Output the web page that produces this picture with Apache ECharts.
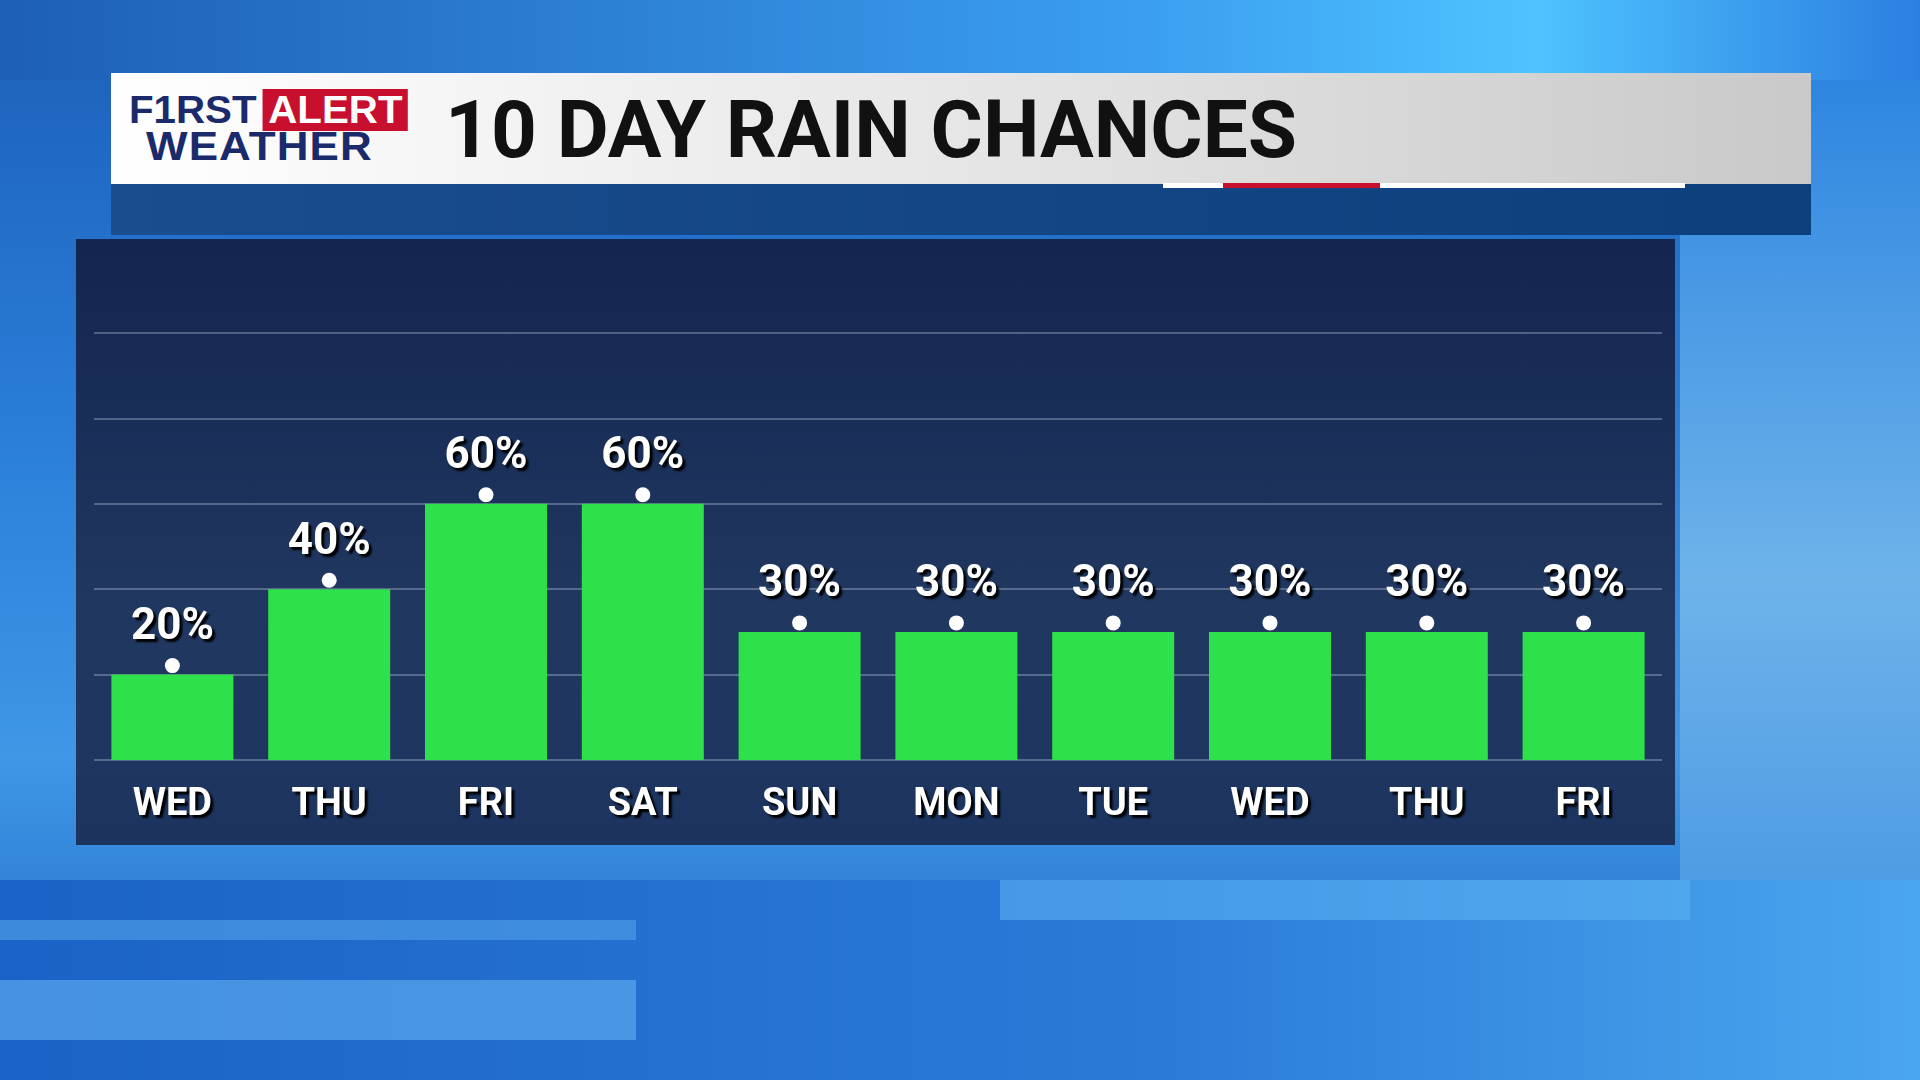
<!DOCTYPE html>
<html><head><meta charset="utf-8">
<script src="https://cdn.jsdelivr.net/npm/echarts@6/dist/echarts.min.js"></script>
<style>
html,body{margin:0;width:1920px;height:1080px;overflow:hidden;}
body{background:linear-gradient(180deg,#1c5fb8 0%,#2a7ed8 40%,#3f97e6 70%,#1e66c4 100%);position:relative;font-family:Roboto,sans-serif;}
.blk{position:absolute;}
#chart{position:absolute;left:0;top:0;width:1920px;height:1080px;}
</style></head><body>
<div class="blk" style="left:0;top:0;width:1920px;height:80px;background:linear-gradient(90deg,#1d5fb6,#3b9ff0 60%,#4ec3ff 80%,#2c7fe0)"></div>
<div class="blk" style="left:1680px;top:80px;width:240px;height:1000px;background:linear-gradient(180deg,#2e86e0,#6eb3ea 50%,#3b8de0)"></div>
<div class="blk" style="left:0;top:880px;width:1920px;height:200px;background:linear-gradient(90deg,#1b63c6,#2a7ad8 60%,#4aa6ee)"></div>
<div class="blk" style="left:0;top:920px;width:636px;height:20px;background:#4b9ae6;opacity:.7"></div>
<div class="blk" style="left:0;top:980px;width:636px;height:60px;background:#5aa7ee;opacity:.7"></div>
<div class="blk" style="left:1000px;top:880px;width:690px;height:40px;background:#5ab0f2;opacity:.6"></div>
<div class="blk" style="left:111px;top:184px;width:1700px;height:51px;background:linear-gradient(90deg,#1a4d8e,#0d3f7c)"></div>
<div class="blk" style="left:111px;top:73px;width:1700px;height:111px;background:linear-gradient(90deg,#ffffff,#e6e6e6 50%,#c9c9c9)"></div>
<div class="blk" style="left:1163px;top:183px;width:522px;height:5px;background:#fff"></div>
<div class="blk" style="left:1223px;top:183px;width:157px;height:5px;background:#c8102e"></div>
<div class="blk" style="left:76px;top:239px;width:1599px;height:606px;background:linear-gradient(180deg,rgba(18,32,70,.93),rgba(30,46,82,.9) 60%,rgba(26,44,84,.92))"></div>
<div class="blk" style="left:129px;top:92px;height:36px;font:900 38px/36px 'Liberation Sans',sans-serif;color:#1b2a6b;white-space:nowrap;transform:scaleX(1.06);transform-origin:left"><span>F1RST</span><span style="background:#c8102e;color:#fff;padding:0 5px;margin-left:6px">ALERT</span></div>
<div class="blk" style="left:146px;top:127px;height:38px;font:900 40px/38px 'Liberation Sans',sans-serif;color:#1b2a6b;white-space:nowrap;transform:scaleX(1.1);transform-origin:left;letter-spacing:1px">WEATHER</div>
<div class="blk" style="left:445px;top:88px;font:700 80px/84px Roboto,sans-serif;color:#111;letter-spacing:0px">10 DAY RAIN CHANCES</div>
<div id="chart"></div>
<script>
const days=['WED','THU','FRI','SAT','SUN','MON','TUE','WED','THU','FRI'];
const chances=[20,40,60,60,30,30,30,30,30,30];
const yTicks=[0,20,40,60,80,100];
const c=echarts.init(document.getElementById('chart'));
c.setOption({
 backgroundColor:'transparent',
 grid:{left:94,right:258,top:333,bottom:320},
 xAxis:{type:'category',data:days,axisLine:{show:false},axisTick:{show:false},
  axisLabel:{color:'#fff',fontSize:38,fontWeight:'bold',fontFamily:'Roboto',margin:26,textShadowColor:'#000',textShadowOffsetX:3,textShadowOffsetY:3,textShadowBlur:2}},
 yAxis:{type:'value',min:yTicks[0],max:yTicks[yTicks.length-1],interval:20,axisLabel:{show:false},
  splitLine:{lineStyle:{color:'rgba(200,210,230,0.45)',width:1.5}}},
 series:[
  {type:'bar',data:chances,barWidth:122,itemStyle:{color:'#2ee04a'},animation:false},
  {type:'scatter',data:chances,symbol:'circle',symbolSize:15,symbolOffset:[0,-9],itemStyle:{color:'#fff',opacity:1},animation:false,
   label:{show:true,position:'top',distance:8,formatter:'{c}%',color:'#fff',opacity:1,fontSize:44,fontWeight:'bold',fontFamily:'Roboto',
    textShadowColor:'#000',textShadowOffsetX:3,textShadowOffsetY:3,textShadowBlur:2}}
 ]
});
</script></body></html>
